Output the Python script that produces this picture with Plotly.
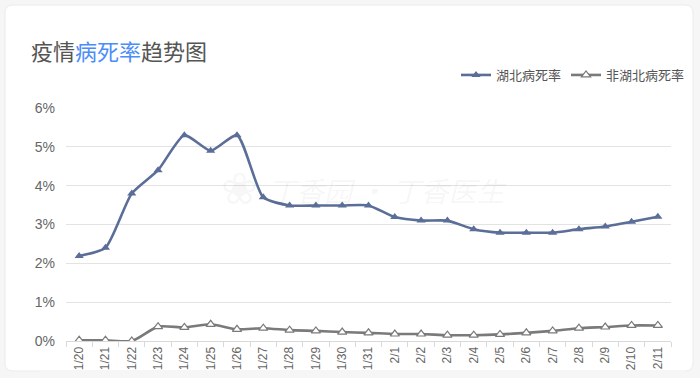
import plotly.graph_objects as go

dates = ["1/20","1/21","1/22","1/23","1/24","1/25","1/26","1/27","1/28","1/29","1/30","1/31",
         "2/1","2/2","2/3","2/4","2/5","2/6","2/7","2/8","2/9","2/10","2/11"]
hubei = [2.19, 2.4, 3.8, 4.4, 5.3, 4.9, 5.3, 3.7, 3.49, 3.49, 3.49, 3.49,
         3.19, 3.1, 3.1, 2.88, 2.79, 2.79, 2.79, 2.88, 2.95, 3.07, 3.2]
non_hubei = [0.02, 0.02, 0.0, 0.37, 0.35, 0.43, 0.3, 0.33, 0.28, 0.26, 0.23, 0.21,
             0.18, 0.18, 0.15, 0.15, 0.17, 0.21, 0.26, 0.33, 0.36, 0.40, 0.40]
y_ticks = [0, 1, 2, 3, 4, 5, 6]
y_labels = ["0%", "1%", "2%", "3%", "4%", "5%", "6%"]

W, H = 700, 378
L, R, T, B = 66, 671, 108, 341

def px(x):
    return (x - L) / (R - L)

def py(y):
    return (B - y) / (B - T)

BG = "#f6f6f6"
CJK = "Noto Sans CJK SC"

fig = go.Figure()
fig.add_trace(go.Scatter(
    x=dates, y=hubei, name="湖北病死率", mode="lines+markers",
    line=dict(color="#5a6e98", width=2.6, shape="spline", smoothing=0.6),
    marker=dict(symbol="triangle-up", size=8, color="#5a6e98"),
))
fig.add_trace(go.Scatter(
    x=dates, y=non_hubei, name="非湖北病死率", mode="lines+markers",
    line=dict(color="#7a7a7a", width=2.6, shape="spline", smoothing=0.6),
    marker=dict(symbol="triangle-up", size=8, color="white",
                line=dict(color="#7a7a7a", width=1.2)),
))

shapes = []
# card
x0, y0, x1, y1, r = px(5), py(5), px(693), py(371), 8
rx = r / (R - L)
ry = r / (B - T)
path = (f"M {x0+rx},{y0} L {x1-rx},{y0} Q {x1},{y0} {x1},{y0-ry} "
        f"L {x1},{y1+ry} Q {x1},{y1} {x1-rx},{y1} L {x0+rx},{y1} "
        f"Q {x0},{y1} {x0},{y1+ry} L {x0},{y0-ry} Q {x0},{y0} {x0+rx},{y0} Z")
shapes.append(dict(type="path", xref="paper", yref="paper", path=path,
                   fillcolor="white", line=dict(color="#ebebeb", width=1), layer="below"))
# clip strip at bottom
shapes.append(dict(type="rect", xref="paper", yref="paper",
                   x0=px(40), x1=px(685), y0=py(370), y1=py(380),
                   fillcolor=BG, line=dict(width=0), layer="above"))

annotations = [
    dict(text='疫情<span style="color:#4b8df8">病死率</span>趋势图',
         xref="paper", yref="paper", x=px(29), y=py(50), xanchor="left", yanchor="middle",
         showarrow=False, font=dict(family=CJK, size=22, color="#555555")),
    dict(text="❀",
         xref="paper", yref="paper", x=px(240), y=py(188), xanchor="center", yanchor="middle",
         showarrow=False, font=dict(family="DejaVu Sans", size=44, color="rgba(0,0,0,0.05)")),
    dict(text="<i>丁香园 · 丁香医生</i>",
         xref="paper", yref="paper", x=px(266), y=py(190), xanchor="left", yanchor="middle",
         showarrow=False, font=dict(family=CJK, size=28, color="rgba(0,0,0,0.055)")),
]

fig.update_layout(
    width=W, height=H, autosize=False,
    margin=dict(l=L, r=W - R, t=T, b=H - B, autoexpand=False),
    paper_bgcolor=BG, plot_bgcolor="rgba(0,0,0,0)",
    shapes=shapes, annotations=annotations,
    showlegend=True,
    legend=dict(orientation="h", xref="container", yref="container",
                x=690 / W, xanchor="right", y=1 - 75 / H, yanchor="middle",
                font=dict(family=CJK, size=13, color="#555555"),
                itemwidth=30, bgcolor="rgba(0,0,0,0)", tracegroupgap=0),
    xaxis=dict(type="category", range=[-0.5, 22.5], showgrid=False, automargin=False,
               showline=True, linecolor="#d9d9d9", linewidth=1,
               ticks="outside", tickson="boundaries", ticklen=5, tickcolor="#d9d9d9",
               tickangle=-90, tickfont=dict(family="Liberation Sans", size=12, color="#666666"),
               fixedrange=True),
    yaxis=dict(range=[0, 6], tickvals=y_ticks, ticktext=y_labels, showgrid=True, automargin=False,
               gridcolor="#e3e3e3", gridwidth=1, zeroline=False, showline=False,
               ticks="", tickfont=dict(family="Liberation Sans", size=14, color="#666666"),
               ticklabelstandoff=10, fixedrange=True),
)

fig.write_html("out.html", config={"displayModeBar": False},
               post_script="document.body.style.margin='0';document.body.style.background='" + BG + "';")
